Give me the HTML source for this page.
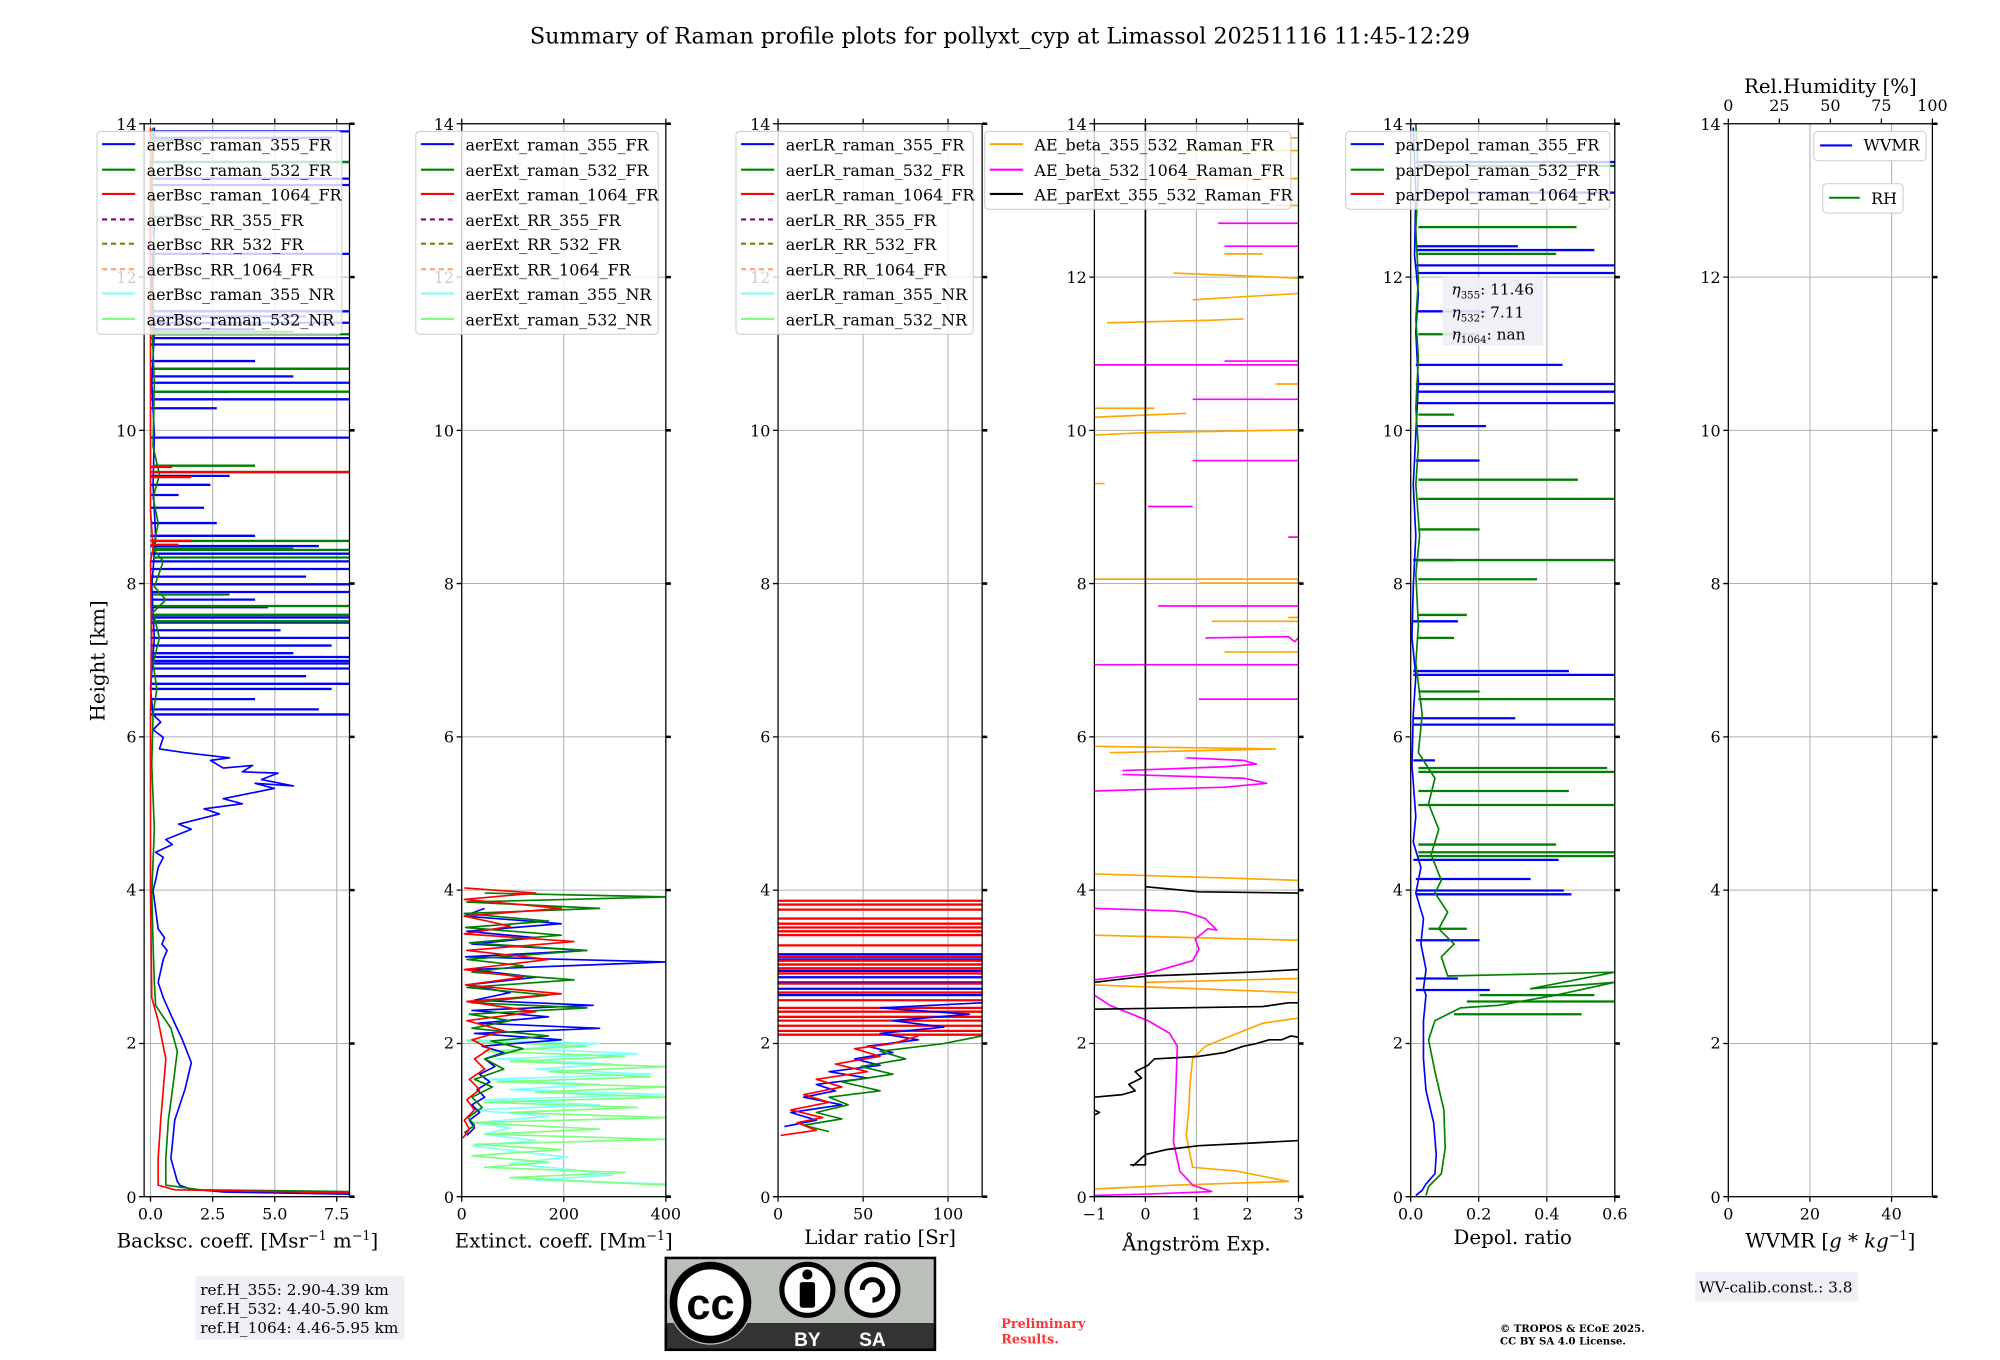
<!DOCTYPE html>
<html><head><meta charset="utf-8">
<style>
html,body{margin:0;padding:0;background:#fff;}
svg{display:block;}
text{font-family:"DejaVu Serif","Liberation Serif",serif;fill:#000;}
.g{stroke:#b0b0b0;stroke-width:0.8;fill:none}
.k{stroke:#000;stroke-width:1;fill:none}
.t{font-size:12.5px;text-anchor:end}
.b{font-size:12.5px;text-anchor:middle}
.d{fill:none;stroke-width:1.3;stroke-linejoin:round}
.s{fill:none;stroke-width:1.8}
.lg{font-size:12.5px}
</style></head>
<body>
<svg width="2000" height="1360" viewBox="0 0 1568 1066" preserveAspectRatio="none" xmlns="http://www.w3.org/2000/svg">
<rect width="1568" height="1066" fill="#fff"/>
<defs>
<clipPath id="c1"><rect x="113" y="97" width="161" height="841"/></clipPath>
<clipPath id="c2"><rect x="362" y="97" width="160" height="841"/></clipPath>
<clipPath id="c3"><rect x="610" y="97" width="160" height="841"/></clipPath>
<clipPath id="c4"><rect x="858" y="97" width="160" height="841"/></clipPath>
<clipPath id="c5"><rect x="1106" y="97" width="160" height="841"/></clipPath>
</defs>

<!-- GRIDS -->
<path class="g" d="M113 217.2h161M113 337.3h161M113 457.4h161M113 577.6h161M113 697.7h161M113 817.9h161 M118 97V938M166.7 97V938M215.4 97V938M264 97V938"/>
<path class="g" d="M362 217.2h160M362 337.3h160M362 457.4h160M362 577.6h160M362 697.7h160M362 817.9h160 M442 97V938"/>
<path class="g" d="M610 217.2h160M610 337.3h160M610 457.4h160M610 577.6h160M610 697.7h160M610 817.9h160 M676.7 97V938M743.3 97V938"/>
<path class="g" d="M858 217.2h160M858 337.3h160M858 457.4h160M858 577.6h160M858 697.7h160M858 817.9h160 M898 97V938M938 97V938M978 97V938"/>
<path class="g" d="M1106 217.2h160M1106 337.3h160M1106 457.4h160M1106 577.6h160M1106 697.7h160M1106 817.9h160 M1159.3 97V938M1212.7 97V938"/>
<path class="g" d="M1355 217.2h160M1355 337.3h160M1355 457.4h160M1355 577.6h160M1355 697.7h160M1355 817.9h160 M1419 97V938M1483 97V938"/>

<!-- PANEL 1 DATA -->
<g clip-path="url(#c1)">
<path class="d" stroke="#0000ff" d="M274 936L176 934.4L149 932L141 929L139 926L134 908L137 878L145 854L150 833L143 815L136 800L128 782L124 770L128 752L131 745L127 740L129 735L124 728L120 698L122 690L124 680L128 672L122 668L135 662L130 658L150 650L140 646L172 638L160 634L190 630L175 626L195 622L215 618L200 614L230 616L205 611L218 606L190 605L198 600L175 602L165 596L180 594L145 590L125 587L128 578L120 572L126 566L120 560L118 540L121 500L119 460L122 420L120 380L121 340L119 300L121 260L119 220L121 180L119 140L121 100"/>
<path class="s" stroke="#0000ff" d="M118 560H274M118 556H250M118 548H200M118 540H260M118 536H274M118 530H240M118 524H274M118 520H274M118 518H274M118 515H274M118 512H230M118 506H260M118 500H274M118 494H220M118 488H274M118 484H274M118 482H274M118 476H210M118 470H200M118 464H274M118 458H274M118 452H240M118 446H274M118 440H274M118 434H274M118 428H250M118 420H200M118 410H170M118 398H160M118 388H140M118 380H165M118 373H180M118 343H274M118 320H170M118 313H274M118 307H180M118 300H274M118 295H230M118 289H274M118 283H200M118 270H274M118 265H274M118 258H200M118 253H274M118 248H240M118 244H274M118 199H274M118 145H274M118 140H274M118 127H274M118 108H260M118 103H274"/>
<path class="d" stroke="#008000" d="M274 934L157 932.6L130 929L130 908L132 878L136 848L139 824L134 806L122 788L121 770L120 740L119 700L121 650L119 600L120 560L123 540L120 520L125 500L120 480L130 470L121 460L128 440L120 430L124 410L120 390L125 372L120 350L121 300L119 250L121 200L119 150L120 100"/>
<path class="s" stroke="#008000" d="M120 487H274M120 482H274M120 475H274M120 466H180M120 437H274M120 431H274M120 424H274M120 430H230M120 370H274M120 365H200M120 307H274M120 289H274M120 262H274M120 260H230M120 170H160M120 127H274M120 110H160"/>
<path class="d" stroke="#ff0000" d="M274 935L137 932.6L124 929L124 908L126 878L130 830L124 800L119 782L118 700L118 560L119 500L118 440L120 430L118 400L118 100"/>
<path class="s" stroke="#ff0000" d="M118 427H140M118 424H150M118 370H274M118 374H150M118 366H135"/>
</g>

<!-- PANEL 2 DATA -->
<g clip-path="url(#c2)">
<path class="d" stroke="#7fffff" stroke-width="2" d="M522 928L420 925L480 921L450 917L400 912L445 907L410 903L370 898L420 894L380 889L400 884L372 880L430 875L370 870L470 866L380 862L520 858L400 854L470 850L380 846L510 842L420 838L480 834L390 830L500 826L410 822L470 818L365 815"/>
<path class="d" stroke="#7fff7f" stroke-width="2" d="M522 929L460 926L400 923L490 919L380 915L430 911L370 906L440 901L372 897L522 893L380 889L470 885L368 880L522 876L400 872L500 868L380 864L522 860L420 856L522 852L390 848L510 844L430 840L522 836L400 832L490 828L380 824L460 820L366 816"/>
<path class="d" stroke="#0000ff" d="M366 890L372 884L368 878L376 872L370 866L380 860L374 854L384 848L376 842L388 836L380 830L395 825L378 820L440 815L372 810L470 806L375 802L430 797L370 792L465 788L372 784L400 778L366 772L420 766L368 760L522 754L365 750L460 745L370 740L420 735L366 730L440 724L364 718L380 712"/>
<path class="d" stroke="#008000" d="M364 888L372 882L367 876L378 868L370 860L386 852L372 846L395 838L380 830L410 822L385 816L430 812L370 806L400 800L368 795L460 790L370 786L430 780L366 774L450 768L370 762L410 757L366 752L460 745L368 739L440 733L365 727L430 722L364 716L470 712L366 707L522 703L380 700"/>
<path class="d" stroke="#ff0000" d="M363 892L368 885L364 878L372 870L366 862L376 854L368 846L380 838L372 830L384 822L370 815L395 808L366 800L420 793L366 785L440 779L365 772L410 766L364 760L430 752L366 745L450 738L364 732L400 726L364 718L440 712L364 705L420 700L364 696"/>
</g>

<!-- PANEL 3 DATA -->
<g clip-path="url(#c3)">
<path class="s" stroke="#0000ff" d="M610 780H770M610 775H770M610 770H770M610 766H770M610 761H770M610 756H770M610 752H770M610 748H770"/>
<path class="s" stroke="#ff0000" stroke-width="2" d="M610 811H770M610 808H770M610 804H770M610 800H770M610 797H770M610 793H770M610 790H770M610 784H770M610 778H770M610 771H770M610 763H770M610 759H770M610 756H770M610 753H770M610 750H770M610 741H770M610 733H770M610 730H770M610 727H770M610 724H770M610 720H770M610 713H770M610 709H770M610 706H770"/>
<path class="d" stroke="#0000ff" d="M615 883L640 878L620 872L660 866L630 860L655 855L640 850L680 845L650 840L690 835L670 830L700 825L680 820L720 815L690 810L740 805L700 800L760 795L690 790L770 786"/>
<path class="d" stroke="#008000" stroke-width="1.6" d="M650 887L630 882L660 877L640 872L665 866L650 860L690 855L660 848L700 842L675 836L710 830L690 824L740 818L760 814L770 812"/>
<path class="d" stroke="#ff0000" stroke-width="1.8" d="M612 890L640 886L625 880L645 876L620 870L650 864L630 858L660 852L640 846L680 840L655 834L690 828L670 822L700 818L720 812"/>
</g>

<!-- PANEL 4 DATA -->
<g clip-path="url(#c4)">
<path class="d" stroke="#ffa500" d="M858 932L920 929L1010 926L970 918L935 915L933 905L930 890L932 870L933 850L935 830L945 820L970 810L990 802L1018 798 M898 770L1018 767 M858 772L1018 778 M858 733L1018 737 M858 685L1018 690 M858 585L1000 587L870 590 M960 511H1018 M950 487H1018 M1010 484H1018 M858 454H1018 M940 457H1018 M858 379H866 M858 341L900 339L1018 337 M858 327L930 324 M858 320L905 320 M1000 301H1018 M868 253L950 251L975 250 M935 235L1018 230 M920 214L1018 218 M960 199H990 M1000 161H1018 M920 140H1018 M930 118H1018 M1010 108H1018"/>
<path class="d" stroke="#ff00ff" d="M858 937L898 936L950 934L935 929L925 918L920 895L922 850L923 820L917 810L900 800L870 788L858 780 M858 768L900 763L935 753L940 744L937 736L947 728L954 729L945 720L930 715L920 714L858 712 M880 604L960 601L985 599L975 596L930 594 M858 620L960 617L993 614L975 610L880 607 M940 548H1018 M858 521H1018 M945 500L1010 499L1015 503L1018 500 M908 475H1018 M1010 421H1018 M900 397H935 M935 361H1018 M935 313H1018 M858 286H1018 M960 283H1018 M960 193H1018 M955 175H1018"/>
<path class="d" stroke="#000" d="M886 913L898 913L898 97 M888 914L898 905L915 901L940 898L980 896L1018 894 M858 870L862 872L858 874 M858 860L880 858L890 855L885 850L895 845L890 840L900 835L905 830L940 828L960 825L975 820L985 818L995 815L1005 815L1012 812L1018 813 M858 791L990 789L1010 786L1018 786 M858 770L900 765L980 762L1018 760 M898 695L940 699L1018 700"/>
</g>

<!-- PANEL 5 DATA -->
<g clip-path="url(#c5)">
<path class="d" stroke="#0000ff" d="M1110 937L1115 933L1118 928L1125 920L1126 905L1124 880L1118 855L1116 830L1116 800L1118 780L1116 775L1118 760L1114 740L1116 720L1110 700L1114 680L1108 660L1110 640L1107 600L1108 560L1110 530L1107 500L1108 460L1110 420L1108 380L1110 340L1112 300L1110 260L1112 230L1109 200L1110 150L1108 100"/>
<path class="s" stroke="#0000ff" d="M1110 776H1168M1110 767H1143M1110 737H1160M1110 701H1232M1110 698H1226M1110 689H1200M1108 674H1222M1108 596H1125M1108 568H1266M1108 563H1188M1108 529H1266M1108 526H1230M1108 487H1143M1108 439H1140M1110 361H1160M1110 334H1165M1110 316H1266M1110 307H1266M1110 301H1266M1110 286H1225M1110 244H1165M1110 214H1266M1110 208H1266M1110 196H1250M1110 193H1190M1110 151H1266M1110 127H1266"/>
<path class="d" stroke="#008000" d="M1118 937L1120 930L1130 920L1133 900L1132 870L1125 840L1120 815L1125 800L1145 790L1175 788L1220 780L1266 770L1200 775L1266 762L1180 764L1135 765L1130 750L1140 740L1128 728L1135 715L1125 700L1130 690L1122 670L1128 650L1120 630L1125 610L1112 590L1115 560L1110 520L1112 490L1110 450L1113 420L1110 380L1112 350L1110 320L1112 280L1110 250L1112 220L1110 180L1112 140L1110 97"/>
<path class="s" stroke="#008000" d="M1120 728H1150M1112 671H1266M1112 668H1266M1112 662H1220M1112 631H1266M1112 620H1230M1112 605H1266M1112 602H1260M1112 548H1266M1112 542H1160M1112 500H1140M1112 482H1150M1112 454H1205M1112 439H1266M1112 415H1160M1112 391H1266M1112 376H1237M1112 325H1140M1112 262H1160M1112 199H1220M1112 178H1236M1112 130H1266M1150 785H1266M1160 780H1250M1140 795H1240"/>
</g>

<!-- AXES (spines + ticks) -->
<g class="k">
<rect x="113" y="97" width="161" height="841"/>
<rect x="362" y="97" width="160" height="841"/>
<rect x="610" y="97" width="160" height="841"/>
<rect x="858" y="97" width="160" height="841"/>
<rect x="1106" y="97" width="160" height="841"/>
<rect x="1355" y="97" width="160" height="841"/>
<path d="M118 938v4M166.7 938v4M215.4 938v4M264 938v4M118 97v-4M166.7 97v-4M215.4 97v-4M264 97v-4 M362 938v4M442 938v4M522 938v4M362 97v-4M442 97v-4M522 97v-4 M610 938v4M676.7 938v4M743.3 938v4M610 97v-4M676.7 97v-4M743.3 97v-4 M858 938v4M898 938v4M938 938v4M978 938v4M1018 938v4M858 97v-4M898 97v-4M938 97v-4M978 97v-4M1018 97v-4 M1106 938v4M1159.3 938v4M1212.7 938v4M1266 938v4M1106 97v-4M1159.3 97v-4M1212.7 97v-4M1266 97v-4 M1355 938v4M1419 938v4M1483 938v4 M1355 97v-4M1395 97v-4M1435 97v-4M1475 97v-4M1515 97v-4"/>
<path d="M109 97h4M109 217.2h4M109 337.3h4M109 457.4h4M109 577.6h4M109 697.7h4M109 817.9h4M109 938h4 M358 97h4M358 217.2h4M358 337.3h4M358 457.4h4M358 577.6h4M358 697.7h4M358 817.9h4M358 938h4 M606 97h4M606 217.2h4M606 337.3h4M606 457.4h4M606 577.6h4M606 697.7h4M606 817.9h4M606 938h4 M854 97h4M854 217.2h4M854 337.3h4M854 457.4h4M854 577.6h4M854 697.7h4M854 817.9h4M854 938h4 M1102 97h4M1102 217.2h4M1102 337.3h4M1102 457.4h4M1102 577.6h4M1102 697.7h4M1102 817.9h4M1102 938h4 M1351 97h4M1351 217.2h4M1351 337.3h4M1351 457.4h4M1351 577.6h4M1351 697.7h4M1351 817.9h4M1351 938h4"/>
<path stroke-width="2" d="M274 97h4M274 217.2h4M274 337.3h4M274 457.4h4M274 577.6h4M274 697.7h4M274 817.9h4M274 938h4 M522 97h4M522 217.2h4M522 337.3h4M522 457.4h4M522 577.6h4M522 697.7h4M522 817.9h4M522 938h4 M770 97h4M770 217.2h4M770 337.3h4M770 457.4h4M770 577.6h4M770 697.7h4M770 817.9h4M770 938h4 M1018 97h4M1018 217.2h4M1018 337.3h4M1018 457.4h4M1018 577.6h4M1018 697.7h4M1018 817.9h4M1018 938h4 M1266 97h4M1266 217.2h4M1266 337.3h4M1266 457.4h4M1266 577.6h4M1266 697.7h4M1266 817.9h4M1266 938h4 M1515 97h4M1515 217.2h4M1515 337.3h4M1515 457.4h4M1515 577.6h4M1515 697.7h4M1515 817.9h4M1515 938h4"/>
</g>

<!-- Y tick labels -->
<g class="t">
<text x="107" y="102" class="t">14</text><text x="107" y="222" class="t">12</text><text x="107" y="342" class="t">10</text><text x="107" y="462" class="t">8</text><text x="107" y="582" class="t">6</text><text x="107" y="702" class="t">4</text><text x="107" y="822" class="t">2</text><text x="107" y="943" class="t">0</text>
<text x="356" y="102" class="t">14</text><text x="356" y="222" class="t">12</text><text x="356" y="342" class="t">10</text><text x="356" y="462" class="t">8</text><text x="356" y="582" class="t">6</text><text x="356" y="702" class="t">4</text><text x="356" y="822" class="t">2</text><text x="356" y="943" class="t">0</text>
<text x="604" y="102" class="t">14</text><text x="604" y="222" class="t">12</text><text x="604" y="342" class="t">10</text><text x="604" y="462" class="t">8</text><text x="604" y="582" class="t">6</text><text x="604" y="702" class="t">4</text><text x="604" y="822" class="t">2</text><text x="604" y="943" class="t">0</text>
<text x="852" y="102" class="t">14</text><text x="852" y="222" class="t">12</text><text x="852" y="342" class="t">10</text><text x="852" y="462" class="t">8</text><text x="852" y="582" class="t">6</text><text x="852" y="702" class="t">4</text><text x="852" y="822" class="t">2</text><text x="852" y="943" class="t">0</text>
<text x="1100" y="102" class="t">14</text><text x="1100" y="222" class="t">12</text><text x="1100" y="342" class="t">10</text><text x="1100" y="462" class="t">8</text><text x="1100" y="582" class="t">6</text><text x="1100" y="702" class="t">4</text><text x="1100" y="822" class="t">2</text><text x="1100" y="943" class="t">0</text>
<text x="1349" y="102" class="t">14</text><text x="1349" y="222" class="t">12</text><text x="1349" y="342" class="t">10</text><text x="1349" y="462" class="t">8</text><text x="1349" y="582" class="t">6</text><text x="1349" y="702" class="t">4</text><text x="1349" y="822" class="t">2</text><text x="1349" y="943" class="t">0</text>
</g>
<!-- X tick labels -->
<g>
<text x="118" y="956" class="b">0.0</text><text x="166.7" y="956" class="b">2.5</text><text x="215.4" y="956" class="b">5.0</text><text x="264" y="956" class="b">7.5</text>
<text x="362" y="956" class="b">0</text><text x="442" y="956" class="b">200</text><text x="522" y="956" class="b">400</text>
<text x="610" y="956" class="b">0</text><text x="676.7" y="956" class="b">50</text><text x="743.3" y="956" class="b">100</text>
<text x="858" y="956" class="b">−1</text><text x="898" y="956" class="b">0</text><text x="938" y="956" class="b">1</text><text x="978" y="956" class="b">2</text><text x="1018" y="956" class="b">3</text>
<text x="1106" y="956" class="b">0.0</text><text x="1159.3" y="956" class="b">0.2</text><text x="1212.7" y="956" class="b">0.4</text><text x="1266" y="956" class="b">0.6</text>
<text x="1355" y="956" class="b">0</text><text x="1419" y="956" class="b">20</text><text x="1483" y="956" class="b">40</text>
<text x="1355" y="87" class="b">0</text><text x="1395" y="87" class="b">25</text><text x="1435" y="87" class="b">50</text><text x="1475" y="87" class="b">75</text><text x="1515" y="87" class="b">100</text>
</g>

<!-- LEGENDS -->
<g>
<rect x="76" y="103" width="192" height="159" rx="3" fill="#fff" fill-opacity="0.8" stroke="#ccc" stroke-width="0.8"/>
<path stroke-width="1.6" d="M80 113h26" stroke="#0000ff"/><path stroke-width="1.6" d="M80 133h26" stroke="#008000"/><path stroke-width="1.6" d="M80 152h26" stroke="#ff0000"/><path stroke-width="1.6" stroke-dasharray="4,3" d="M80 172h26" stroke="#800080"/><path stroke-width="1.6" stroke-dasharray="4,3" d="M80 191h26" stroke="#808000"/><path stroke-width="1.6" stroke-dasharray="4,3" d="M80 211h26" stroke="#ffa07a"/><path stroke-width="1.6" d="M80 230h26" stroke="#7fffff"/><path stroke-width="1.6" d="M80 250h26" stroke="#7fff7f"/>
<text class="lg" x="115" y="118">aerBsc_raman_355_FR</text><text class="lg" x="115" y="138">aerBsc_raman_532_FR</text><text class="lg" x="115" y="157">aerBsc_raman_1064_FR</text><text class="lg" x="115" y="177">aerBsc_RR_355_FR</text><text class="lg" x="115" y="196">aerBsc_RR_532_FR</text><text class="lg" x="115" y="216">aerBsc_RR_1064_FR</text><text class="lg" x="115" y="235">aerBsc_raman_355_NR</text><text class="lg" x="115" y="255">aerBsc_raman_532_NR</text>

<rect x="326" y="103" width="190" height="159" rx="3" fill="#fff" fill-opacity="0.8" stroke="#ccc" stroke-width="0.8"/>
<path stroke-width="1.6" d="M330 113h26" stroke="#0000ff"/><path stroke-width="1.6" d="M330 133h26" stroke="#008000"/><path stroke-width="1.6" d="M330 152h26" stroke="#ff0000"/><path stroke-width="1.6" stroke-dasharray="4,3" d="M330 172h26" stroke="#800080"/><path stroke-width="1.6" stroke-dasharray="4,3" d="M330 191h26" stroke="#808000"/><path stroke-width="1.6" stroke-dasharray="4,3" d="M330 211h26" stroke="#ffa07a"/><path stroke-width="1.6" d="M330 230h26" stroke="#7fffff"/><path stroke-width="1.6" d="M330 250h26" stroke="#7fff7f"/>
<text class="lg" x="365" y="118">aerExt_raman_355_FR</text><text class="lg" x="365" y="138">aerExt_raman_532_FR</text><text class="lg" x="365" y="157">aerExt_raman_1064_FR</text><text class="lg" x="365" y="177">aerExt_RR_355_FR</text><text class="lg" x="365" y="196">aerExt_RR_532_FR</text><text class="lg" x="365" y="216">aerExt_RR_1064_FR</text><text class="lg" x="365" y="235">aerExt_raman_355_NR</text><text class="lg" x="365" y="255">aerExt_raman_532_NR</text>

<rect x="577" y="103" width="186" height="159" rx="3" fill="#fff" fill-opacity="0.8" stroke="#ccc" stroke-width="0.8"/>
<path stroke-width="1.6" d="M581 113h26" stroke="#0000ff"/><path stroke-width="1.6" d="M581 133h26" stroke="#008000"/><path stroke-width="1.6" d="M581 152h26" stroke="#ff0000"/><path stroke-width="1.6" stroke-dasharray="4,3" d="M581 172h26" stroke="#800080"/><path stroke-width="1.6" stroke-dasharray="4,3" d="M581 191h26" stroke="#808000"/><path stroke-width="1.6" stroke-dasharray="4,3" d="M581 211h26" stroke="#ffa07a"/><path stroke-width="1.6" d="M581 230h26" stroke="#7fffff"/><path stroke-width="1.6" d="M581 250h26" stroke="#7fff7f"/>
<text class="lg" x="616" y="118">aerLR_raman_355_FR</text><text class="lg" x="616" y="138">aerLR_raman_532_FR</text><text class="lg" x="616" y="157">aerLR_raman_1064_FR</text><text class="lg" x="616" y="177">aerLR_RR_355_FR</text><text class="lg" x="616" y="196">aerLR_RR_532_FR</text><text class="lg" x="616" y="216">aerLR_RR_1064_FR</text><text class="lg" x="616" y="235">aerLR_raman_355_NR</text><text class="lg" x="616" y="255">aerLR_raman_532_NR</text>

<rect x="772" y="103" width="240" height="61" rx="3" fill="#fff" fill-opacity="0.8" stroke="#ccc" stroke-width="0.8"/>
<path stroke-width="1.6" d="M776 113h26" stroke="#ffa500"/><path stroke-width="1.6" d="M776 133h26" stroke="#ff00ff"/><path stroke-width="1.6" d="M776 152h26" stroke="#000"/>
<text class="lg" x="811" y="118">AE_beta_355_532_Raman_FR</text><text class="lg" x="811" y="138">AE_beta_532_1064_Raman_FR</text><text class="lg" x="811" y="157">AE_parExt_355_532_Raman_FR</text>

<rect x="1055" y="103" width="207" height="61" rx="3" fill="#fff" fill-opacity="0.8" stroke="#ccc" stroke-width="0.8"/>
<path stroke-width="1.6" d="M1059 113h26" stroke="#0000ff"/><path stroke-width="1.6" d="M1059 133h26" stroke="#008000"/><path stroke-width="1.6" d="M1059 152h26" stroke="#ff0000"/>
<text class="lg" x="1094" y="118">parDepol_raman_355_FR</text><text class="lg" x="1094" y="138">parDepol_raman_532_FR</text><text class="lg" x="1094" y="157">parDepol_raman_1064_FR</text>

<rect x="1422" y="103" width="88" height="23" rx="3" fill="#fff" stroke="#ccc" stroke-width="0.8"/>
<path stroke-width="1.6" d="M1427 114h25" stroke="#0000ff"/><text class="lg" x="1461" y="118">WVMR</text>
<rect x="1429" y="144" width="63" height="23" rx="3" fill="#fff" stroke="#ccc" stroke-width="0.8"/>
<path stroke-width="1.6" d="M1434 155h24" stroke="#008000"/><text class="lg" x="1467" y="160">RH</text>
</g>

<text x="784" y="34" font-size="17.5" text-anchor="middle">Summary of Raman profile plots for pollyxt_cyp at Limassol 20251116 11:45-12:29</text>
<text transform="translate(82,518) rotate(-90)" font-size="15.5" text-anchor="middle">Height [km]</text>
<text x="194" y="978" font-size="15.5" text-anchor="middle">Backsc. coeff. [Msr<tspan font-size="10" dy="-6">−1</tspan><tspan dy="6"> m</tspan><tspan font-size="10" dy="-6">−1</tspan><tspan dy="6">]</tspan></text>
<text x="442" y="978" font-size="15.5" text-anchor="middle">Extinct. coeff. [Mm<tspan font-size="10" dy="-6">−1</tspan><tspan dy="6">]</tspan></text>
<text x="690" y="975" font-size="15.5" text-anchor="middle">Lidar ratio [Sr]</text>
<text x="938" y="980" font-size="15.5" text-anchor="middle">Ångström Exp.</text>
<text x="1186" y="975" font-size="15.5" text-anchor="middle">Depol. ratio</text>
<text x="1435" y="978" font-size="15.5" text-anchor="middle">WVMR [<tspan font-style="italic">g</tspan> * <tspan font-style="italic">kg</tspan><tspan font-size="10" dy="-6">−1</tspan><tspan dy="6">]</tspan></text>
<text x="1435" y="73" font-size="15.5" text-anchor="middle">Rel.Humidity [%]</text>

<rect x="153" y="1000" width="164" height="50" fill="#eef0f6"/>
<text x="157" y="1015" font-size="12">ref.H_355: 2.90-4.39 km</text>
<text x="157" y="1030" font-size="12">ref.H_532: 4.40-5.90 km</text>
<text x="157" y="1045" font-size="12">ref.H_1064: 4.46-5.95 km</text>
<rect x="1329" y="997" width="128" height="23" fill="#eef0f6"/>
<text x="1332" y="1013" font-size="12">WV-calib.const.: 3.8</text>
<text x="785" y="1041" font-size="10" font-weight="bold" style="fill:#ff3333">Preliminary</text>
<text x="785" y="1053" font-size="10" font-weight="bold" style="fill:#ff3333">Results.</text>
<text x="1176" y="1044" font-size="8" font-weight="bold">© TROPOS &amp; ECoE 2025.</text>
<text x="1176" y="1054" font-size="8" font-weight="bold">CC BY SA 4.0 License.</text>

<rect x="521" y="985" width="213" height="74" fill="#000"/>
<rect x="523" y="987" width="209" height="50" fill="#bbbfb9"/>
<rect x="523" y="1037" width="209" height="20" fill="#333"/>
<circle cx="557" cy="1021" r="33" fill="#bbbfb9"/>
<circle cx="557" cy="1021" r="29" fill="#fff" stroke="#000" stroke-width="6"/>
<text x="557" y="1034" font-size="34" font-weight="bold" text-anchor="middle" style="font-family:'Liberation Sans',sans-serif">cc</text>
<circle cx="633" cy="1011" r="20" fill="#fff" stroke="#000" stroke-width="4"/>
<circle cx="633" cy="999" r="4" fill="#000"/>
<rect x="627" y="1005" width="12" height="20" rx="2" fill="#000"/>
<circle cx="684" cy="1011" r="20" fill="#fff" stroke="#000" stroke-width="4"/>
<path d="M676 1011 A8 8 0 1 1 684 1019" fill="none" stroke="#000" stroke-width="4"/>
<text x="633" y="1055" font-size="15" font-weight="bold" text-anchor="middle" style="fill:#fff;font-family:'Liberation Sans',sans-serif">BY</text>
<text x="684" y="1055" font-size="15" font-weight="bold" text-anchor="middle" style="fill:#fff;font-family:'Liberation Sans',sans-serif">SA</text>

<rect x="1131" y="217" width="79" height="54" fill="#eef0f6" opacity="0.9"/>
<text x="1138" y="231" font-size="12"><tspan font-style="italic">η</tspan><tspan font-size="8" dy="3">355</tspan><tspan dy="-3">: 11.46</tspan></text>
<text x="1138" y="249" font-size="12"><tspan font-style="italic">η</tspan><tspan font-size="8" dy="3">532</tspan><tspan dy="-3">: 7.11</tspan></text>
<text x="1138" y="266" font-size="12"><tspan font-style="italic">η</tspan><tspan font-size="8" dy="3">1064</tspan><tspan dy="-3">: nan</tspan></text>
</svg>
</body></html>
